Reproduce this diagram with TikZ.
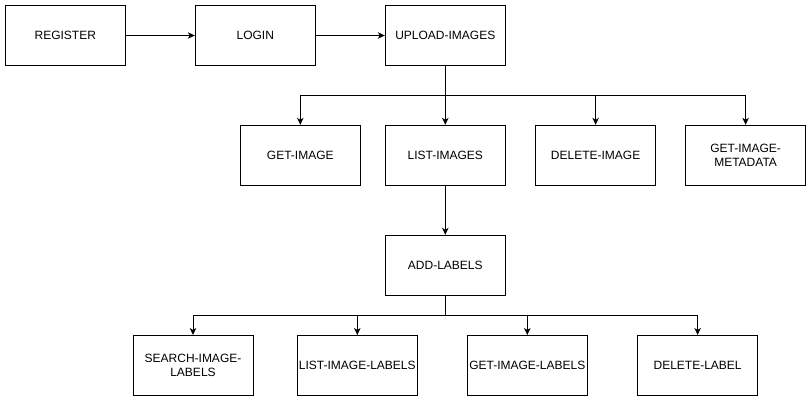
\documentclass[tikz,border=0pt]{standalone}
\usepackage{fontspec}
\setmainfont{Liberation Sans}
\usepackage{tikz}
\usetikzlibrary{arrows.meta,positioning,calc}

\tikzset{
  stepbox/.style={draw,line width=1pt,minimum width=120pt,minimum height=60pt,
                  inner sep=1pt,align=center,font=\fontsize{12}{14}\selectfont},
  link/.style={line width=1pt,-{Stealth[length=7pt,width=6.5pt,inset=2pt]}}
}

\begin{document}
\begin{tikzpicture}[x=1pt,y=-1pt]
  \useasboundingbox (0,0) rectangle (811,401);
  % --- account and upload ---
  \node[stepbox] (register) at (65.3,35.5) {REGISTER};
  \node[stepbox] (login)    at (255.3,35.5) {LOGIN};
  \node[stepbox] (upload)   at (445.3,35.5) {UPLOAD-IMAGES};
  \draw[link] (register) -- (login);
  \draw[link] (login) -- (upload);
  % --- image operations ---
  \node[stepbox] (getimage)  at (300.3,155.3) {GET-IMAGE};
  \node[stepbox] (listimages) at (445.3,155.3) {LIST-IMAGES};
  \node[stepbox] (delimage)  at (595.6,155.3) {DELETE-IMAGE};
  \node[stepbox] (metadata)  at (745.6,155.3) {GET-IMAGE-\\METADATA};
  \coordinate (split1) at (445.3,95.7);
  \draw[line width=1pt] (upload) -- (split1);
  \foreach \t in {getimage,listimages,delimage,metadata} {
    \draw[link] (split1) -| (\t.north);
  }
  % --- labels ---
  \node[stepbox] (addlabels) at (445.3,265.3) {ADD-LABELS};
  \draw[link] (listimages) -- (addlabels);
  \node[stepbox] (searchlabels) at (193,365.5) {SEARCH-IMAGE-\\LABELS};
  \node[stepbox] (listlabels)   at (357.3,365.5) {LIST-IMAGE-LABELS};
  \node[stepbox] (getlabels)    at (527.3,365.5) {GET-IMAGE-LABELS};
  \node[stepbox] (dellabel)     at (697.6,365.5) {DELETE-LABEL};
  \coordinate (split2) at (445.3,315.3);
  \draw[line width=1pt] (addlabels) -- (split2);
  \foreach \t in {searchlabels,listlabels,getlabels,dellabel} {
    \draw[link] (split2) -| (\t.north);
  }
\end{tikzpicture}
\end{document}
